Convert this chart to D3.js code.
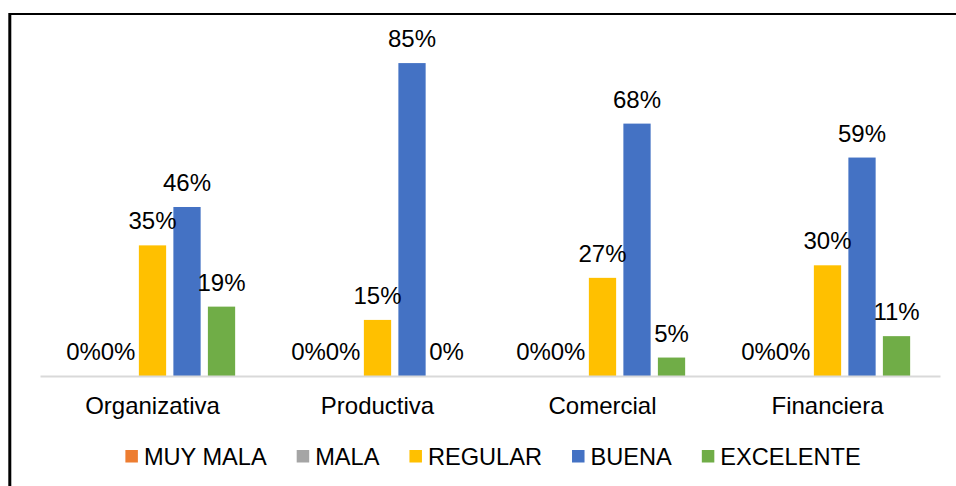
<!DOCTYPE html>
<html>
<head>
<meta charset="utf-8">
<script src="https://cdn.jsdelivr.net/npm/d3@7"></script>
<style>
  html, body { margin: 0; padding: 0; background: #fff; }
  svg { display: block; font-family: "Liberation Sans", Arial, sans-serif; }
</style>
</head>
<body>
<svg id="chart" width="956" height="486"></svg>
<script>
const categories = ["Organizativa", "Productiva", "Comercial", "Financiera"];
const seriesNames = ["MUY MALA", "MALA", "REGULAR", "BUENA", "EXCELENTE"];
const seriesColors = ["#ED7D31", "#A5A5A5", "#FFC000", "#4472C4", "#70AD47"];
const muyMala  = [0, 0, 0, 0];
const mala     = [0, 0, 0, 0];
const regular  = [0.354, 0.152, 0.266, 0.300];
const buena    = [0.458, 0.848, 0.684, 0.592];
const excelente= [0.188, 0.000, 0.050, 0.108];
const seriesValues = [muyMala, mala, regular, buena, excelente];

const svg = d3.select("#chart");
const W = 956, H = 486;
const plot = { left: 40, right: 940, bottom: 376 };
const fontSize = 24;
const legendFontSize = 23.6;

// border (top and left)
svg.append("line").attr("x1", 9).attr("x2", W).attr("y1", 14).attr("y2", 14)
  .attr("stroke", "#000").attr("stroke-width", 2);
svg.append("line").attr("x1", 9.8).attr("x2", 9.8).attr("y1", 13).attr("y2", H)
  .attr("stroke", "#000").attr("stroke-width", 3);

const x0 = d3.scaleBand().domain(categories).range([plot.left, plot.right]);
const x1 = d3.scaleBand().domain(seriesNames).range([0, x0.bandwidth()])
  .paddingInner(0.21).paddingOuter(0.865);
const y = d3.scaleLinear().domain([0, 0.9]).range([plot.bottom, plot.bottom - 0.9 * 369]);
const fmt = d3.format(".0%");

const data = [];
categories.forEach((c, ci) => {
  seriesNames.forEach((s, si) => {
    data.push({ cat: c, ser: s, si, v: seriesValues[si][ci] });
  });
});

// bars
svg.append("g").selectAll("rect").data(data.filter(d => d.v > 0)).join("rect")
  .attr("x", d => x0(d.cat) + x1(d.ser))
  .attr("width", x1.bandwidth())
  .attr("y", d => y(d.v))
  .attr("height", d => y(0) - y(d.v))
  .attr("fill", d => seriesColors[d.si]);

// axis line
const xAxis = d3.axisBottom(x0).tickSize(0).tickPadding(21);
const ax = svg.append("g").attr("transform", `translate(0,${plot.bottom})`).call(xAxis);
ax.select(".domain").attr("stroke", "#d9d9d9").attr("stroke-width", 2);
ax.selectAll(".tick text").attr("font-size", fontSize).attr("fill", "#000")
  .attr("font-family", "Liberation Sans, Arial, sans-serif");

// data labels
svg.append("g").selectAll("text").data(data).join("text")
  .attr("x", d => x0(d.cat) + x1(d.ser) + x1.bandwidth() / 2)
  .attr("y", d => y(d.v) - 16)
  .attr("text-anchor", "middle")
  .attr("font-size", fontSize)
  .attr("fill", "#000")
  .text(d => fmt(d.v));

// legend
const leg = svg.append("g").attr("transform", "translate(0,465)");
const items = leg.selectAll("g").data(seriesNames).join("g");
items.append("rect").attr("x", 0).attr("y", -15).attr("width", 12.5).attr("height", 12.5)
  .attr("fill", (d, i) => seriesColors[i]);
items.append("text").attr("x", 18.5).attr("y", 0).attr("font-size", legendFontSize)
  .attr("fill", "#000").text(d => d);
const widths = [];
items.each(function() { widths.push(18.5 + d3.select(this).select("text").node().getComputedTextLength()); });
const gap = 30;
const total = d3.sum(widths) + gap * (widths.length - 1);
let start = 493 - total / 2;
items.attr("transform", (d, i) => {
  const t = `translate(${start},0)`;
  start += widths[i] + gap;
  return t;
});
</script>
</body>
</html>
